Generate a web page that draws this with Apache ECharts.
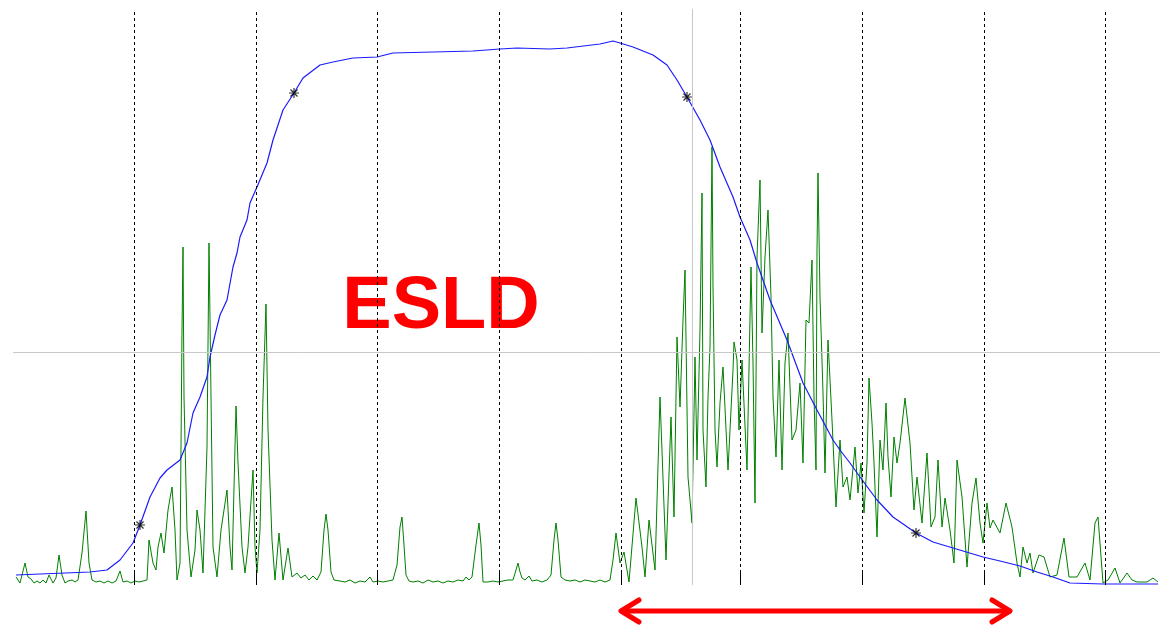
<!DOCTYPE html>
<html>
<head>
<meta charset="utf-8">
<script src="https://cdn.jsdelivr.net/npm/echarts@6/dist/echarts.min.js"></script>
<style>
  html, body { margin: 0; padding: 0; background: #fff; }
  #chart { width: 1169px; height: 627px; }
</style>
</head>
<body>
<div id="chart"></div>
<script>
// Signal trace: [sample, amplitude]
const signalTrace = [
  [16,8],[20,2],[25,22],[28,8],[31,6],[34,2],[37,4],[40,2],[43,5],[46,2],[49,10],[53,2],[56,7],[59,30],[62,10],[65,2],[68,4],[72,5],[75,3],[78,5],
  [82,32],[86,74],[89,22],[92,5],[96,3],[100,4],[104,2],[108,4],[112,2],[116,4],[120,14],[123,3],[127,4],[131,2],[135,4],[139,3],[143,4],[147,5],
  [149,45],[153,22],[156,15],[158,38],[161,52],[164,32],[168,75],[172,98],[175,55],[177,5],[180,22],[182,255],[183,338],[184,188],[187,55],[191,8],
  [195,35],[197,75],[200,55],[203,12],[207,138],[209,342],[211,188],[213,38],[217,8],[221,55],[227,95],[230,38],[232,15],[235,138],[236,179],[238,122],
  [242,38],[245,12],[248,38],[253,115],[255,38],[257,12],[260,55],[263,188],[266,281],[268,155],[272,45],[275,5],[279,52],[283,5],[288,37],[292,8],
  [297,12],[301,7],[305,10],[309,5],[313,9],[317,5],[321,13],[324,55],[326,71],[328,55],[331,13],[334,5],[340,4],[345,3],[350,5],[355,2],[360,4],
  [365,3],[370,8],[373,3],[378,4],[383,3],[388,4],[393,5],[397,20],[400,58],[402,68],[404,40],[406,10],[409,4],[413,3],[418,4],[423,2],[428,5],
  [433,3],[438,4],[443,2],[448,4],[453,3],[458,5],[463,4],[466,8],[469,5],[472,8],[476,40],[479,62],[481,40],[483,3],[488,3],[493,4],[498,3],
  [503,4],[508,5],[513,5],[516,15],[518,22],[520,13],[522,7],[525,5],[529,9],[532,4],[537,5],[542,3],[547,5],[551,10],[554,45],[556,62],[558,45],
  [561,8],[565,5],[570,4],[575,5],[580,3],[585,5],[590,4],[595,3],[600,5],[605,3],[610,5],[613,25],[616,52],[620,22],[624,33],[629,3],[636,87],
  [642,38],[645,8],[649,65],[655,15],[660,188],[666,25],[671,168],[674,68],[677,248],[680,178],[683,265],[685,315],[688,108],[692,62],[695,228],
  [697,125],[700,255],[702,392],[703,155],[706,98],[708,188],[710,238],[712,438],[713,298],[715,155],[717,118],[720,182],[723,218],[728,115],
  [733,215],[734,243],[737,225],[739,155],[742,225],[747,115],[751,318],[753,222],[755,82],[757,328],[760,405],[762,252],[765,328],[768,375],
  [771,288],[773,188],[776,128],[779,225],[782,115],[785,222],[788,252],[792,145],[796,155],[800,202],[803,122],[806,265],[809,262],[812,325],
  [814,188],[816,115],[817,335],[818,412],[820,288],[823,192],[825,112],[828,245],[832,165],[836,78],[840,145],[843,98],[847,108],[850,85],
  [855,138],[858,92],[861,122],[864,72],[867,122],[869,207],[872,162],[874,122],[877,48],[880,145],[883,115],[886,182],[888,128],[891,88],
  [894,148],[897,122],[900,142],[905,187],[910,142],[914,75],[917,108],[922,62],[927,132],[931,58],[935,68],[938,125],[942,58],[945,87],
  [950,55],[954,22],[957,125],[962,88],[967,18],[972,82],[976,107],[980,62],[983,42],[987,82],[990,57],[993,65],[1000,52],[1006,82],[1012,58],
  [1017,22],[1020,8],[1023,38],[1027,22],[1030,32],[1033,12],[1039,30],[1044,28],[1050,8],[1057,10],[1064,47],[1069,8],[1077,8],[1085,22],
  [1090,5],[1095,62],[1098,68],[1103,2],[1108,5],[1115,17],[1120,2],[1127,12],[1132,5],[1137,3],[1147,3],[1153,7],[1158,3]
];

// Envelope curve: [sample, level]
const envelopeCurve = [
  [16,10],[40,11],[90,13],[107,15],[120,25],[133,42],[140,60],[150,88],[160,107],[167,115],[180,125],[187,142],[193,172],[200,188],
  [207,208],[210,228],[215,250],[220,270],[227,285],[233,318],[237,332],[240,348],[247,365],[250,382],[257,398],[267,422],[273,445],
  [283,475],[294,492],[303,507],[320,520],[333,523],[353,527],[377,528],[393,532],[433,533],[473,534],[500,536],[517,537],[550,536],
  [567,537],[600,541],[613,544],[620,542],[633,538],[653,530],[667,520],[677,505],[687,488],[700,465],[710,445],[720,418],[733,388],
  [740,368],[750,345],[757,322],[770,285],[787,245],[803,202],[817,175],[833,145],[840,135],[850,122],[860,108],[877,85],[893,68],
  [916,52],[933,43],[953,37],[983,28],[1000,24],[1020,19],[1037,13],[1053,8],[1070,2],[1103,1],[1158,1]
];

// Marked points on the envelope
const envelopeMarks = [[140,60],[294,492],[687,488],[916,52]];

// Division lines and reference lines (sample / level)
const divisionSamples = [134, 256, 377, 499, 621, 740, 862, 984, 1105];
const refSample = 692;
const refLevel = 233;

const sampleRange = [13, 1160];
const levelRange = [0, 576];

const asterisk = 'path://M-0.6,-5H0.6V5H-0.6Z M-5,-0.6H5V0.6H-5Z ' +
  'M-3.96,-3.11L-3.11,-3.96L3.96,3.11L3.11,3.96Z M3.11,-3.96L3.96,-3.11L-3.11,3.96L-3.96,3.11Z';

const chart = echarts.init(document.getElementById('chart'), null, { renderer: 'canvas' });

const guideData = [];
divisionSamples.forEach(x => guideData.push({ xAxis: x }));
divisionSamples.forEach(x => guideData.push([
  { coord: [x, 0], lineStyle: { type: 'solid', color: '#000', width: 1 } },
  { coord: [x, 14] }
]));
guideData.push({ xAxis: refSample, lineStyle: { type: 'solid', color: '#c8c8c8', width: 1 } });
guideData.push({ yAxis: refLevel, lineStyle: { type: 'solid', color: '#c8c8c8', width: 1 } });

chart.setOption({
  animation: false,
  backgroundColor: '#ffffff',
  grid: { left: 13, right: 9, top: 9, bottom: 42 },
  xAxis: {
    type: 'value', min: sampleRange[0], max: sampleRange[1],
    axisLine: { show: false }, axisTick: { show: false }, axisLabel: { show: false }, splitLine: { show: false }
  },
  yAxis: {
    type: 'value', min: levelRange[0], max: levelRange[1],
    axisLine: { show: false }, axisTick: { show: false }, axisLabel: { show: false }, splitLine: { show: false }
  },
  series: [
    {
      type: 'line', data: [], z: 1, silent: true,
      markLine: {
        silent: true, symbol: ['none', 'none'], label: { show: false },
        emphasis: { disabled: true },
        lineStyle: { type: [3, 3], color: '#000', width: 1 },
        data: guideData
      }
    },
    {
      type: 'line', data: signalTrace, z: 2, silent: true, symbol: 'none',
      lineStyle: { color: '#008000', width: 1 }
    },
    {
      type: 'line', data: envelopeCurve, z: 3, silent: true, symbol: 'none',
      lineStyle: { color: '#1a1aff', width: 1.2 }
    },
    {
      type: 'scatter', data: envelopeMarks, z: 4, silent: true,
      symbol: asterisk, symbolSize: 10,
      itemStyle: { color: '#000' }
    }
  ],
  graphic: [
    {
      type: 'text', x: 441, y: 308, silent: true,
      style: {
        text: 'ESLD', fill: '#ff0000',
        font: 'bold 74px "Liberation Sans", Arial, sans-serif',
        align: 'center', verticalAlign: 'middle'
      }
    },
    {
      type: 'group', silent: true,
      children: [
        { type: 'polyline', shape: { points: [[622, 611], [1009, 611]] },
          style: { stroke: '#ff0000', lineWidth: 5, lineCap: 'round', fill: null } },
        { type: 'polyline', shape: { points: [[639, 600], [621, 611], [639, 622]] },
          style: { stroke: '#ff0000', lineWidth: 5, lineCap: 'round', lineJoin: 'round', fill: null } },
        { type: 'polyline', shape: { points: [[992, 600], [1010, 611], [992, 622]] },
          style: { stroke: '#ff0000', lineWidth: 5, lineCap: 'round', lineJoin: 'round', fill: null } }
      ]
    }
  ]
});
</script>
</body>
</html>
